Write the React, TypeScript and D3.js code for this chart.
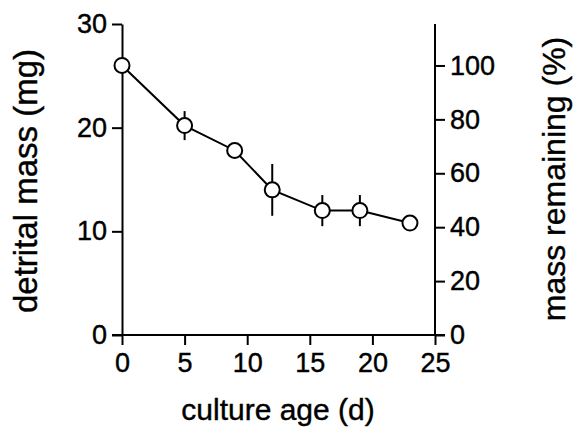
import { useEffect, useRef } from 'react'
import * as d3 from 'd3'

const ages = [0, 5, 9, 12, 16, 19, 23]
const massMg = [26.0, 20.2, 17.8, 14.0, 12.0, 12.0, 10.8]
const errMg = [0, 1.4, 0, 2.5, 1.5, 1.5, 0]
const xTicks = [0, 5, 10, 15, 20, 25]
const leftTicks = [0, 10, 20, 30]
const rightTicks = [0, 20, 40, 60, 80, 100]
const initialMass = 26 // mg that equals 100 %

export default function App() {
  const svgRef = useRef<SVGSVGElement>(null)

  useEffect(() => {
    if (!svgRef.current) return
    const svg = d3.select(svgRef.current)
    svg.selectAll('*').remove()

    const font = '"Liberation Sans", Arial, Helvetica, sans-serif'
    const x = d3.scaleLinear().domain([0, 25]).range([122, 435])
    const y = d3.scaleLinear().domain([0, 30]).range([335, 24])
    const yPct = d3.scaleLinear().domain([0, (30 / initialMass) * 100]).range([335, 24])

    const styleAxis = (g: any) => {
      g.select('.domain').attr('stroke', '#000').attr('stroke-width', 2)
      g.selectAll('.tick line').attr('stroke', '#000').attr('stroke-width', 2)
      g.selectAll('.tick text')
        .attr('fill', '#000')
        .attr('stroke', '#000')
        .attr('stroke-width', 0.4)
        .attr('font-family', font)
        .attr('font-size', 27)
    }

    // X axis
    svg.append('g')
      .attr('transform', `translate(0, ${y(0)})`)
      .call(d3.axisBottom(x).tickValues(xTicks).tickSize(10).tickSizeOuter(0).tickPadding(8))
      .call(styleAxis)
      .select('.domain')
      .attr('d', `M${x(0) - 10},0H${x(25) + 10}`)

    // Left axis
    svg.append('g')
      .attr('transform', `translate(${x(0)}, 0)`)
      .call(d3.axisLeft(y).tickValues(leftTicks).tickSize(10).tickSizeOuter(0).tickPadding(5))
      .call(styleAxis)

    // Right axis
    svg.append('g')
      .attr('transform', `translate(${x(25)}, 0)`)
      .call(d3.axisRight(yPct).tickValues(rightTicks).tickSize(10).tickSizeOuter(0).tickPadding(5))
      .call(styleAxis)
      .select('.domain')
      .attr('d', `M0,${y(0)}V${y(30)}`)

    const data = ages.map((a, i) => ({ age: a, mass: massMg[i], err: errMg[i] }))

    // Error bars
    svg.append('g')
      .selectAll('line')
      .data(data.filter(d => d.err > 0))
      .enter()
      .append('line')
      .attr('x1', d => x(d.age))
      .attr('x2', d => x(d.age))
      .attr('y1', d => y(d.mass - d.err))
      .attr('y2', d => y(d.mass + d.err))
      .attr('stroke', '#000')
      .attr('stroke-width', 2)

    // Line
    const line = d3.line<{ age: number; mass: number }>()
      .x(d => x(d.age))
      .y(d => y(d.mass))
    svg.append('path')
      .datum(data)
      .attr('d', line)
      .attr('fill', 'none')
      .attr('stroke', '#000')
      .attr('stroke-width', 2)

    // Points
    svg.append('g')
      .selectAll('circle')
      .data(data)
      .enter()
      .append('circle')
      .attr('cx', d => x(d.age))
      .attr('cy', d => y(d.mass))
      .attr('r', 7.5)
      .attr('fill', '#fff')
      .attr('stroke', '#000')
      .attr('stroke-width', 2)

    // Titles
    const title = (t: string, transform: string, size: number) =>
      svg.append('text')
        .attr('transform', transform)
        .attr('text-anchor', 'middle')
        .attr('font-family', font)
        .attr('font-size', size)
        .attr('stroke', '#000')
        .attr('stroke-width', 0.4)
        .text(t)

    title('detrital mass (mg)', 'translate(37, 181) rotate(-90)', 33)
    title('mass remaining (%)', 'translate(565, 179) rotate(-90)', 32)
    title('culture age (d)', 'translate(278, 420)', 30)
  }, [])

  return (
    <svg
      ref={svgRef}
      width={574}
      height={448}
      style={{ position: 'absolute', left: 0, top: 0, background: '#fff' }}
    />
  )
}
